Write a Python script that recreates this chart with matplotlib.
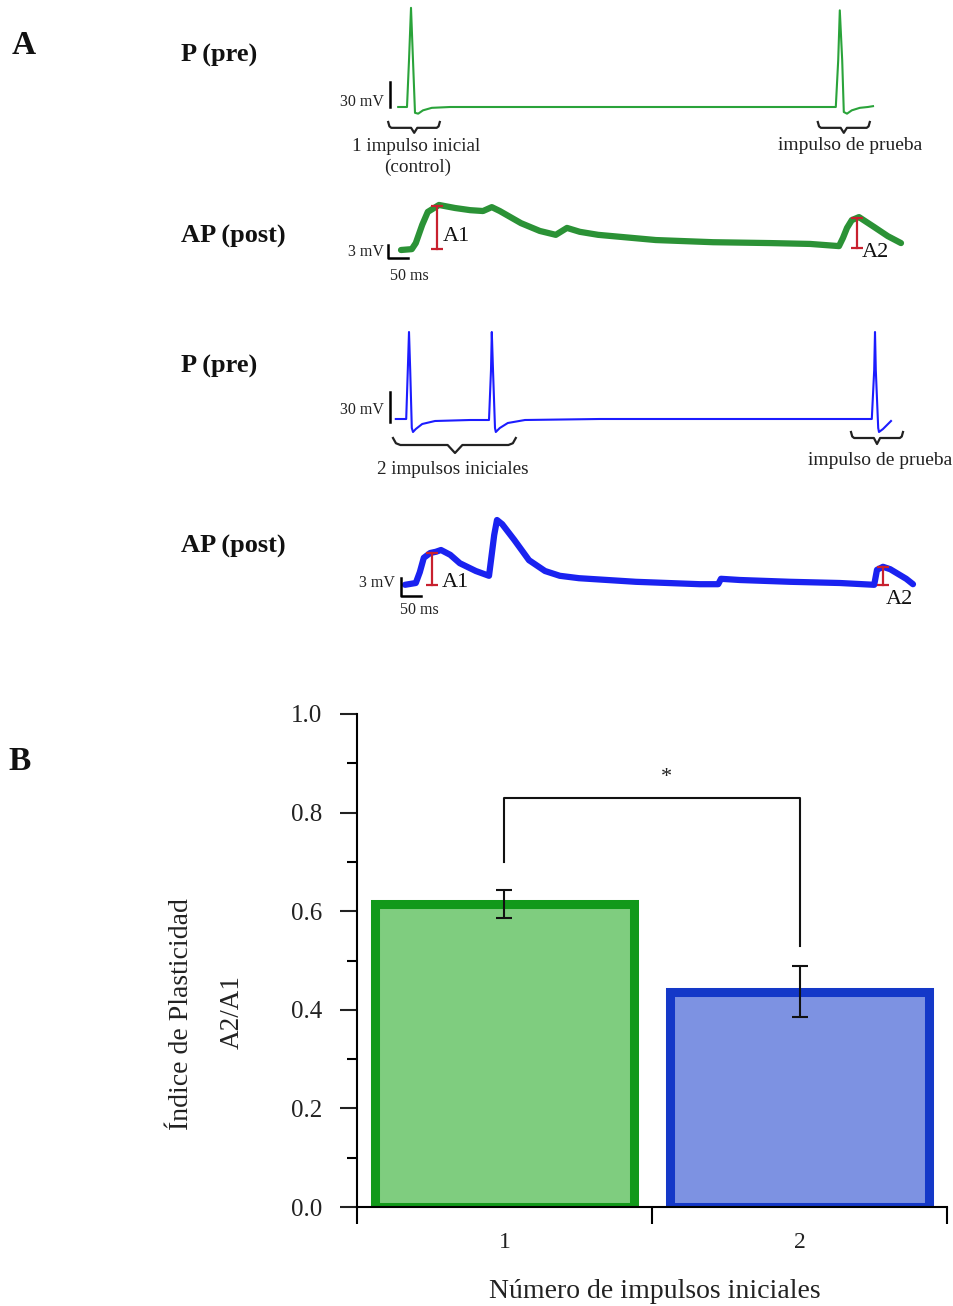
import numpy as np
import matplotlib
matplotlib.use("Agg")
import matplotlib.pyplot as plt

plt.rcParams['font.family'] = ['Liberation Serif', 'DejaVu Serif']

W, H = 954, 1306

# ---------------- panel A data (time in ms, voltage in mV, relative to baseline)
# 1 impulso inicial, presinaptica
t_pre1 = [-32, -10, -5, 0, 5, 10, 18, 30, 52, 98, 1062, 1068, 1072, 1078, 1082, 1090, 1102, 1122, 1142, 1155]
v_pre1 = [0, 0, 56, 119, 56, -7, -8, -4, -1, 0, 0, 56, 116, 56, -6, -8, -4, -1, 0, 1]

# 1 impulso inicial, postsinaptica
t_post1 = [-25, 2, 12, 28, 42, 70, 110, 148, 180, 202, 222, 275, 322, 362, 390, 422, 468, 612, 755, 898,
           998, 1070, 1080, 1090, 1102, 1120, 1158, 1192, 1225]
v_post1 = [0, 0.2, 1.6, 5.8, 8.8, 10.4, 9.7, 9.2, 9.0, 9.9, 9.0, 6.2, 4.4, 3.5, 5.1, 4.2, 3.5, 2.3, 1.8, 1.6,
           1.4, 0.9, 2.8, 5.1, 6.9, 7.6, 5.3, 3.2, 1.6]

# 2 impulsos iniciales, presinaptica
t_pre2 = [-38, -12, -8, -5, -2, 2, 5, 12, 28, 60, 148, 195, 200, 202, 205, 210, 212, 222, 242, 285, 472,
          1152, 1158, 1160, 1162, 1168, 1170, 1180, 1190, 1200]
v_pre2 = [0, 0, 49, 87, 49, -9, -13, -10, -5, -2, -1, -1, 49, 87, 49, -9, -13, -9, -4, -1, 0,
          0, 49, 87, 49, -9, -13, -10, -6, -2]

# 2 impulsos iniciales, postsinaptica
t_post2 = [-15, 12, 22, 32, 48, 62, 75, 98, 122, 162, 195, 200, 208, 215, 228, 258, 295, 335, 372, 420,
           562, 722, 768, 775, 822, 948, 1072, 1158, 1165, 1180, 1198, 1218, 1238, 1255]
v_post2 = [-0.3, 0, 1.8, 4.2, 5.0, 5.2, 5.5, 4.7, 3.3, 2.0, 1.2, 3.8, 8.0, 10.5, 9.8, 7.2, 3.8, 2.0, 1.2, 0.8,
           0.2, -0.2, -0.2, 0.7, 0.5, 0.2, 0, -0.3, 2.2, 2.7, 2.3, 1.5, 0.7, -0.2]

# amplitudes A1 / A2 (t, v_bottom, v_top)
amp_post1 = {'A1': (65, 0.2, 10.2), 'A2': (1115, 0.5, 7.4)}
amp_post2 = {'A1': (52, -0.3, 5.0), 'A2': (1180, -0.3, 2.7)}

# ---------------- panel B data
categorias = [1, 2]
indice = [0.615, 0.437]
error = [0.028, 0.052]
colores_relleno = ['#7fcd7f', '#7d92e2']
colores_borde = ['#12991a', '#1438c8']

fig = plt.figure(figsize=(W / 100, H / 100), dpi=100)

T0, T1 = (330 - 411) * 2.5, (960 - 411) * 2.5


def trace_axes(top, bot, base, k):
    ax = fig.add_axes([330 / W, 1 - bot / H, 630 / W, (bot - top) / H])
    ax.set_xlim(T0, T1)
    ax.set_ylim((base - bot) / k, (base - top) / k)
    ax.axis('off')
    return ax


def brace(ax, t0, t1, tc, v_end, v_mid, v_tip):
    d = (t1 - t0) * 0.06
    xs = [t0, t0 + d * 0.4, t0 + d, tc - d, tc, tc + d, t1 - d, t1 - d * 0.4, t1]
    ys = [v_end, v_mid + (v_end - v_mid) * 0.25, v_mid, v_mid, v_tip, v_mid, v_mid,
          v_mid + (v_end - v_mid) * 0.25, v_end]
    ax.plot(xs, ys, color='#222222', lw=1.6, clip_on=False)


def amp_bar(ax, t, v0, v1, label, tl, vl):
    ax.plot([t, t], [v0, v1], color='#c8202e', lw=1.6)
    ax.plot([t], [v0], marker='_', ms=9, mew=1.6, color='#c8202e')
    ax.plot([t], [v1], marker='_', ms=9, mew=1.6, color='#c8202e')
    ax.text(tl, vl, label, fontsize=16, ha='left', va='center', color='#111111')


txt = dict(color='#222222', va='center')

# trace 1
ax1 = trace_axes(0, 190, 107, 1 / 1.2)
ax1.plot(t_pre1, v_pre1, color='#2aa33a', lw=1.5)
ax1.plot([-52, -52], [0, 30], color='black', lw=1.8)
ax1.text(-68, 6, '30 mV', ha='right', fontsize=11.5, **txt)
brace(ax1, -57, 72, 8, -18, -25, -31)
ax1.text(12, -47, '1 impulso inicial', ha='center', fontsize=13.8, **txt)
ax1.text(17, -73, '(control)', ha='center', fontsize=13.8, **txt)
brace(ax1, 1017, 1147, 1082, -18, -25, -31)
ax1.text(1097, -46, 'impulso de prueba', ha='center', fontsize=14, **txt)

# trace 2
ax2 = trace_axes(190, 290, 250, 4.33)
ax2.plot(t_post1, v_post1, color='#2b9236', lw=4.5, solid_capstyle='round')
ax2.plot([-57, -57, -7], [1.2, -1.8, -1.8], color='black', lw=1.8)
ax2.text(-68, -0.5, '3 mV', ha='right', fontsize=11.5, **txt)
ax2.text(-5, -6, '50 ms', ha='center', fontsize=11.5, **txt)
amp_bar(ax2, *amp_post1['A1'], 'A1', 80, 3.2)
amp_bar(ax2, *amp_post1['A2'], 'A2', 1127, -0.5)

# trace 3
ax3 = trace_axes(320, 480, 419, 1.0)
ax3.plot(t_pre2, v_pre2, color='#1c1cff', lw=1.5)
ax3.plot([-52, -52], [-3, 27], color='black', lw=1.8)
ax3.text(-68, 9, '30 mV', ha='right', fontsize=11.5, **txt)
brace(ax3, -45, 262, 110, -19, -26, -34)
ax3.text(105, -50, '2 impulsos iniciales', ha='center', fontsize=13.8, **txt)
brace(ax3, 1100, 1230, 1165, -13, -19, -25)
ax3.text(1172, -41, 'impulso de prueba', ha='center', fontsize=14, **txt)

# trace 4
ax4 = trace_axes(500, 625, 583, 6.0)
ax4.plot(t_post2, v_post2, color='#1a22f0', lw=4.5, solid_capstyle='round')
ax4.plot([-25, -25, 25], [0.8, -2.2, -2.2], color='black', lw=1.8)
ax4.text(-40, 0, '3 mV', ha='right', fontsize=11.5, **txt)
ax4.text(22, -4.5, '50 ms', ha='center', fontsize=11.5, **txt)
amp_bar(ax4, *amp_post2['A1'], 'A1', 78, 0.1)
amp_bar(ax4, *amp_post2['A2'], 'A2', 1188, -2.7)

# row titles
for y, s in [(55, 'P (pre)'), (236, 'AP (post)'), (366, 'P (pre)'), (546, 'AP (post)')]:
    fig.text(181 / W, 1 - y / H, s, fontsize=19, fontweight='bold', va='center', ha='left', color='#111111')

fig.text(12 / W, 1 - 45 / H, 'A', fontsize=24, fontweight='bold', va='center', color='#111111')
fig.text(8 / W, 1 - 762 / H, 'B', fontsize=24, fontweight='bold', va='center', color='#111111')

# ---------------- panel B
axb = fig.add_axes([357 / W, 1 - 1207 / H, (947 - 357) / W, (1207 - 714) / H])
axb.bar(categorias, indice, width=0.875, color=colores_relleno, edgecolor=colores_borde,
        linewidth=6.5, zorder=2)
axb.errorbar(categorias, indice, yerr=error, fmt='none', ecolor='#111111', elinewidth=1.5,
             capsize=5.5, capthick=1.5, zorder=3)

# significance bracket
axb.plot([1, 1, 2, 2], [0.70, 0.83, 0.83, 0.53], color='#111111', lw=1.5, zorder=3)
axb.text(1.55, 0.872, '*', ha='center', va='center', fontsize=16, color='#222222')

axb.set_xlim(0.5, 2.5)
axb.set_ylim(0, 1.0)
axb.spines['top'].set_visible(False)
axb.spines['right'].set_visible(False)
axb.spines['left'].set_linewidth(1.5)
axb.spines['bottom'].set_linewidth(1.5)

axb.set_yticks(np.arange(0, 1.01, 0.2))
axb.set_yticks(np.arange(0.1, 1.0, 0.2), minor=True)
axb.set_yticklabels(['0.0', '0.2', '0.4', '0.6', '0.8', '1.0'])
axb.tick_params(axis='y', which='major', length=12, width=1.5, labelsize=18, pad=13, colors='#222222')
axb.tick_params(axis='y', which='minor', length=7, width=1.5)

axb.set_xticks([0.5, 1.5, 2.5])
axb.set_xticklabels(['', '', ''])
axb.set_xticks(categorias, minor=True)
axb.set_xticklabels(['1', '2'], minor=True)
axb.tick_params(axis='x', which='major', length=12, width=1.5, direction='out')
axb.tick_params(axis='x', which='minor', length=0, labelsize=17, pad=18, colors='#222222')

fig.text(655 / W, 1 - 1292 / H, 'Número de impulsos iniciales', ha='center', va='center',
         fontsize=20, color='#222222')
fig.text(182 / W, 1 - 1014 / H, 'Índice de Plasticidad', ha='center', va='center',
         rotation=90, fontsize=20, color='#222222')
fig.text(232 / W, 1 - 1012 / H, 'A2/A1', ha='center', va='center',
         rotation=90, fontsize=19.5, color='#222222')

fig.savefig('out.png', dpi=100)
